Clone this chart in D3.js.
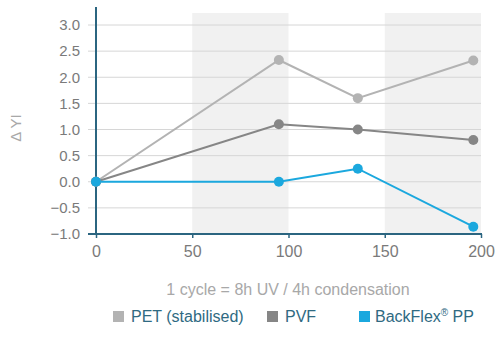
<!DOCTYPE html>
<html>
<head>
<meta charset="utf-8">
<script src="https://cdn.jsdelivr.net/npm/d3@7"></script>
<style>
  body { margin: 0; background: #fff; }
  svg { font-family: "Helvetica Neue", "Liberation Sans", Arial, sans-serif; }
</style>
</head>
<body>
<div id="chart"></div>
<script>
// cycles (x) and delta YI per material
var cycles = [0, 95, 136, 196];
var pet = [0, 2.33, 1.6, 2.32];
var pvf = [0, 1.1, 1.0, 0.8];
var backflex = [0, 0, 0.25, -0.86];
var bands = [[50, 100], [150, 200]];
var xTicks = [0, 50, 100, 150, 200];
var yTicks = [-1, -0.5, 0, 0.5, 1, 1.5, 2, 2.5, 3];
var seriesNames = ["PET (stabilised)", "PVF", "BackFlex"];
var colors = ["#b3b3b3", "#868686", "#1ba8de"];

var width = 503, height = 342;
var margin = {top: 13, left: 96, right: 22, bottom: 108};

var svg = d3.select("#chart").append("svg")
  .attr("width", width)
  .attr("height", height);

var x = d3.scaleLinear().domain([0, 200]).range([margin.left, width - margin.right]);
var y = d3.scaleLinear().domain([-1, 3]).range([height - margin.bottom, 25]);

// shaded bands
svg.selectAll("rect.band")
  .data(bands)
  .enter()
  .append("rect")
    .attr("class", "band")
    .attr("x", function(d) { return x(d[0]); })
    .attr("width", function(d) { return x(d[1]) - x(d[0]); })
    .attr("y", margin.top)
    .attr("height", y(-1) - margin.top)
    .attr("fill", "#f1f1f1");

// grid lines
svg.selectAll("line.grid")
  .data(yTicks.filter(function(d) { return d > -1; }))
  .enter()
  .append("line")
    .attr("class", "grid")
    .attr("x1", x(0) - 8)
    .attr("x2", x(200))
    .attr("y1", function(d) { return y(d); })
    .attr("y2", function(d) { return y(d); })
    .attr("stroke", "#d6d6d6")
    .attr("stroke-width", 1);

// y axis
var yAxis = svg.append("g")
  .attr("transform", "translate(" + x(0) + ",0)")
  .call(d3.axisLeft(y).tickValues(yTicks).tickSize(0).tickPadding(16)
    .tickFormat(d3.format(".1f")));
yAxis.select(".domain").remove();
yAxis.selectAll("text")
  .style("font-size", "15px")
  .attr("fill", "#7a7a7a");
svg.append("line")
  .attr("x1", x(0)).attr("x2", x(0))
  .attr("y1", 7).attr("y2", y(-1))
  .attr("stroke", "#2b6580").attr("stroke-width", 2);

// x axis
var xAxis = svg.append("g")
  .attr("transform", "translate(0," + y(-1) + ")")
  .call(d3.axisBottom(x).tickValues(xTicks).tickSize(4).tickPadding(8));
xAxis.select(".domain").remove();
xAxis.selectAll(".tick line").attr("stroke", "#2b6580").attr("stroke-width", 1.5);
xAxis.selectAll("text")
  .style("font-size", "16px")
  .attr("fill", "#7a7a7a");
svg.append("line")
  .attr("x1", x(0) - 8).attr("x2", x(200) + 1)
  .attr("y1", y(-1)).attr("y2", y(-1))
  .attr("stroke", "#2b6580").attr("stroke-width", 2);

// lines
var allSeries = [pet, pvf, backflex];
var line = d3.line()
  .x(function(d, i) { return x(cycles[i]); })
  .y(function(d) { return y(d); });

allSeries.forEach(function(s, k) {
  svg.append("path")
    .datum(s)
    .attr("d", line)
    .attr("fill", "none")
    .attr("stroke", colors[k])
    .attr("stroke-width", 2);
});
allSeries.forEach(function(s, k) {
  svg.selectAll("circle.s" + k)
    .data(s)
    .enter()
    .append("circle")
      .attr("class", "s" + k)
      .attr("cx", function(d, i) { return x(cycles[i]); })
      .attr("cy", function(d) { return y(d); })
      .attr("r", 5)
      .attr("fill", colors[k]);
});

// y label
svg.append("text")
  .attr("transform", "translate(21,128) rotate(-90)")
  .attr("text-anchor", "middle")
  .style("font-size", "15px")
  .attr("fill", "#a8a8a8")
  .text("Δ YI");

// x title
svg.append("text")
  .attr("x", 288)
  .attr("y", 295)
  .attr("text-anchor", "middle")
  .style("font-size", "16px")
  .attr("fill", "#a8a8a8")
  .text("1 cycle = 8h UV / 4h condensation");

// legend
var legendX = [113, 267, 359];
var legend = svg.selectAll("g.legend")
  .data(seriesNames)
  .enter()
  .append("g")
    .attr("class", "legend")
    .attr("transform", function(d, i) { return "translate(" + legendX[i] + ",311)"; });
legend.append("rect")
  .attr("width", 11).attr("height", 11)
  .attr("fill", function(d, i) { return colors[i]; });
var legendText = legend.append("text")
  .attr("x", function(d, i) { return i == 2 ? 16 : 18; })
  .attr("y", 11)
  .style("font-size", "16px")
  .attr("fill", "#2f6a82")
  .text(function(d) { return d; });
// registered mark on BackFlex
legendText.filter(function(d, i) { return i == 2; })
  .append("tspan")
    .attr("dy", -6)
    .style("font-size", "10px")
    .text("®");
legendText.filter(function(d, i) { return i == 2; })
  .append("tspan")
    .attr("dy", 6)
    .text(" PP");
</script>
</body>
</html>
